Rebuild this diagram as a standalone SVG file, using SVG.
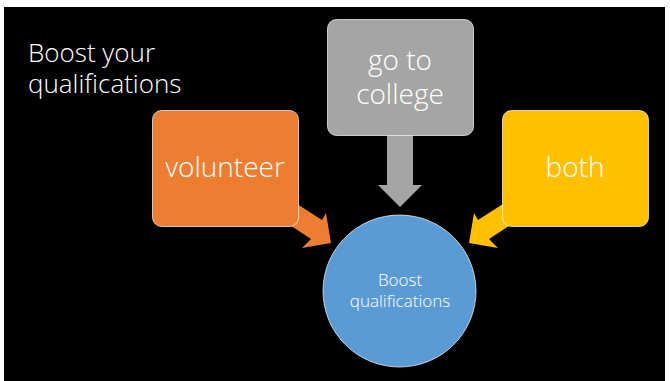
<svg xmlns="http://www.w3.org/2000/svg" width="670" height="381" viewBox="0 0 670 381">
  <style>
    .lbl { font-family: "Open Sans", "Liberation Sans", sans-serif; font-weight: 300; fill: #ffffff; text-anchor: middle; }
    .box { stroke: #f2f2f2; stroke-opacity: 0.75; stroke-width: 1; }
  </style>
  <rect x="0" y="0" width="670" height="381" fill="#ffffff"/>
  <rect x="4" y="7" width="661" height="374" fill="#000000"/>
  <g id="title">
    <text class="lbl" style="text-anchor:start" font-size="26"><tspan x="28" y="62">Boost your</tspan><tspan x="28" y="93">qualifications</tspan></text>
  </g>
  <g id="connectors">
    <polygon fill="#ED7D31" points="280,193 322,220 326,213 331,243 302,248 311,239 270,212"/>
    <polygon fill="#FFC000" points="520,193 478,220 474,213 469,243 498,248 489,239 530,212"/>
    <polygon fill="#A5A5A5" points="387,130 413,130 413,185 422,185 400,207 378,185 387,185"/>
  </g>
  <g id="volunteer">
    <rect class="box" x="152.5" y="110.5" width="146" height="116" rx="9" fill="#ED7D31"/>
    <text class="lbl" font-size="28" x="225" y="177">volunteer</text>
  </g>
  <g id="college">
    <rect class="box" x="327.5" y="19.5" width="146" height="116" rx="9" fill="#A5A5A5"/>
    <text class="lbl" font-size="28"><tspan x="400" y="70">go to</tspan><tspan x="400" y="104">college</tspan></text>
  </g>
  <g id="both">
    <rect class="box" x="502.5" y="110.5" width="146" height="116" rx="9" fill="#FFC000"/>
    <text class="lbl" font-size="28" x="575" y="177">both</text>
  </g>
  <g id="boost">
    <ellipse class="box" cx="399.5" cy="291" rx="76.5" ry="76" fill="#5B9BD5"/>
    <text class="lbl" font-size="17"><tspan x="400" y="286">Boost</tspan><tspan x="400" y="307">qualifications</tspan></text>
  </g>
</svg>
